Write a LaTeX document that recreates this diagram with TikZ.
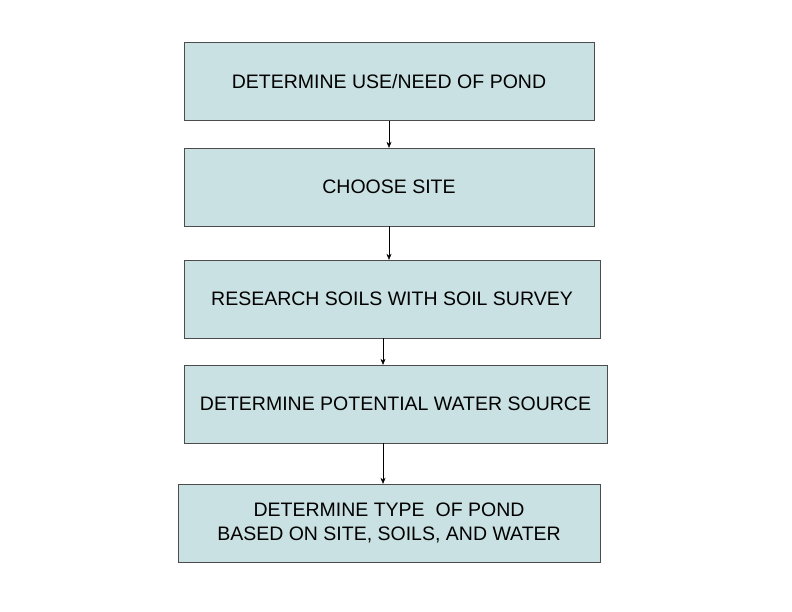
\documentclass[tikz,border=0pt]{standalone}
\usepackage{fontspec}
\setmainfont{Liberation Sans}
\usetikzlibrary{arrows.meta}
\definecolor{boxfill}{RGB}{201,225,227}
\tikzset{
  stepbox/.style = {shape=rectangle, draw=black!70, fill=boxfill,
                    align=center, inner sep=0pt, minimum height=78pt,
                    font=\fontsize{19.5}{24}\selectfont},
  flow/.style    = {draw, -{Stealth[length=6pt,width=5pt]}, thin}
}
\begin{document}
\begin{tikzpicture}[x=1pt,y=-1pt]
\useasboundingbox (0,0) rectangle (792,612);
\node[stepbox, minimum width=410pt] (use)  at (389,81.5) {DETERMINE USE/NEED OF POND};
\node[stepbox, minimum width=410pt] (site) at (389,187)  {CHOOSE SITE};
\node[stepbox, minimum width=416pt] (soil) at (392,299)  {RESEARCH SOILS WITH SOIL SURVEY};
\node[stepbox, minimum width=423pt] (water) at (395.5,404) {DETERMINE POTENTIAL WATER SOURCE};
\node[stepbox, minimum width=422pt] (type) at (389,523)  {DETERMINE TYPE\ \ OF POND\\BASED ON SITE, SOILS, AND WATER};
% connectors
\draw[flow] (use.south -| 389,0) -- (site.north -| 389,0);
\draw[flow] (site.south -| 389,0) -- (soil.north -| 389,0);
\draw[flow] (soil.south -| 383,0) -- (water.north -| 383,0);
\draw[flow] (water.south -| 383,0) -- (type.north -| 383,0);
\end{tikzpicture}
\end{document}
